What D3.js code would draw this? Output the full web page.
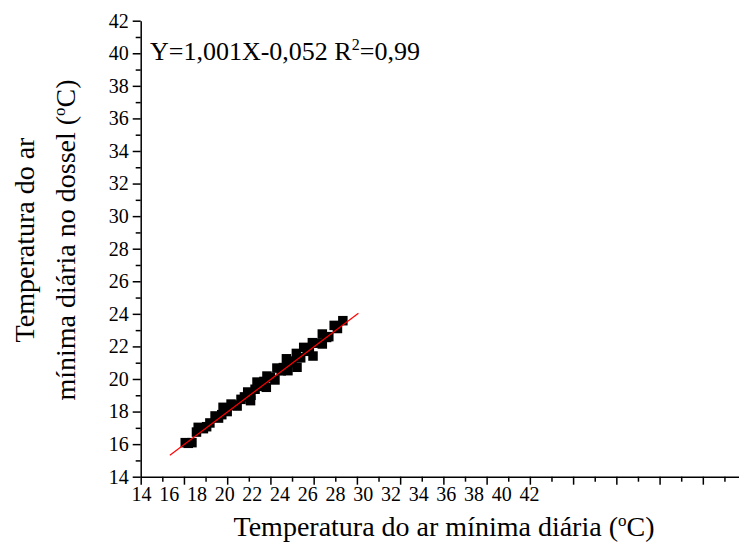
<!DOCTYPE html>
<html><head><meta charset="utf-8">
<script src="https://cdn.jsdelivr.net/npm/d3@7"></script>
<style>body{margin:0;background:#fff}svg{display:block}text{font-family:"Liberation Serif","Times New Roman",serif;fill:#000}</style>
</head><body><svg id="c" width="739" height="550"></svg>
<script>
const xVals = [16.06,16.37,16.58,16.66,17.05,17.44,17.75,17.81,18.18,18.46,18.64,19.08,18.95,19.29,19.38,19.81,19.84,20.21,20.30,20.81,20.74,21.23,21.20,21.54,21.97,21.94,22.40,22.40,22.95,23.35,
  17.20,18.00,18.80,19.60,20.50,21.00,21.70,22.20,22.70,23.10,16.90,17.60,18.30,19.10,19.50,20.00,20.60,21.40,21.80,22.60,16.20,20.95,19.70];
const yVals = [16.09,16.09,16.74,17.03,17.07,17.73,17.81,18.26,18.46,18.34,18.75,18.67,19.20,19.37,19.81,19.49,20.18,19.94,20.67,20.51,21.24,20.72,21.57,21.94,21.41,22.23,22.76,22.15,23.29,23.58,
  17.30,18.00,18.90,19.70,20.50,21.00,21.70,22.20,22.60,23.10,16.95,17.60,18.40,19.00,19.55,20.10,20.70,21.30,21.80,22.55,16.05,21.10,19.85];
const fitX = [15.35,24.07];
const slope = 1.001, intercept = -0.052;
const yTicks = [14,16,18,20,22,24,26,28,30,32,34,36,38,40,42];
const xTickLabels = [14,16,18,20,22,24,26,28,30,32,34,36,38,40,42];

const FONT = '"Liberation Serif","Times New Roman",serif';
const svg = d3.select("#c");
const x = d3.scaleLinear().domain([14,42]).range([140.7,140.7+28*21.62]);
const xLab = d3.scaleLinear().domain([14,42]).range([141,529]);
const y = d3.scaleLinear().domain([14,42]).range([476.7,20.7]);

function styleText(g){
  g.attr("font-family",null).attr("font-size",null);
  g.selectAll("text").style("font-family",FONT).style("font-size","20px").attr("fill","#000");
}

// minor ticks
svg.append("g").attr("transform","translate(0,476.7)")
  .call(d3.axisBottom(x).tickValues(d3.range(15,42,2)).tickSize(5).tickFormat(""))
  .call(g=>{g.select(".domain").remove();g.selectAll("line").attr("stroke-width",1.5);});
svg.append("g").attr("transform","translate(140.7,0)")
  .call(d3.axisLeft(y).tickValues(d3.range(15,42,2)).tickSize(5).tickFormat(""))
  .call(g=>{g.select(".domain").remove();g.selectAll("line").attr("stroke-width",1.5);});
// major axes
svg.append("g").attr("transform","translate(0,476.7)")
  .call(d3.axisBottom(x).tickValues(d3.range(14,43,2)).tickSize(8).tickSizeOuter(0).tickFormat(""))
  .call(g=>{g.select(".domain").attr("stroke-width",1.5);g.selectAll("line").attr("stroke-width",1.5);});
svg.append("g").attr("transform","translate(140.7,0)")
  .call(d3.axisLeft(y).tickValues(yTicks).tickSize(8).tickSizeOuter(0).tickPadding(4))
  .call(g=>{g.select(".domain").attr("stroke-width",1.5);g.selectAll("line").attr("stroke-width",1.5);styleText(g);});
// x labels (offset scale as in reference)
svg.append("g").attr("transform","translate(0,476.7)")
  .call(d3.axisBottom(xLab).tickValues(xTickLabels).tickSize(0).tickPadding(10))
  .call(g=>{g.select(".domain").remove();styleText(g);});

// points
const pts = xVals.map((v,i)=>[v,yVals[i]]);
const s = 9.5;
svg.append("g").selectAll("rect").data(pts).join("rect")
  .attr("x",d=>x(d[0])-s/2).attr("y",d=>y(d[1])-s/2).attr("width",s).attr("height",s).attr("fill","#000");

// fit line
svg.append("line")
  .attr("x1",x(fitX[0])).attr("y1",y(slope*fitX[0]+intercept))
  .attr("x2",x(fitX[1])).attr("y2",y(slope*fitX[1]+intercept))
  .attr("stroke","#ff0000").attr("stroke-width",1.2);

// equation
const eq = svg.append("text").attr("x",150).attr("y",60).style("font-size","26px");
eq.append("tspan").text("Y=1,001X-0,052 R");
eq.append("tspan").attr("dy",-10).style("font-size","16px").text("2");
eq.append("tspan").attr("dy",10).text("=0,99");

// x title
const xt = svg.append("text").attr("x",444).attr("y",536).attr("text-anchor","middle").style("font-size","28px");
xt.append("tspan").text("Temperatura do ar mínima diária (");
xt.append("tspan").attr("dy",-10).style("font-size","17px").text("o");
xt.append("tspan").attr("dy",10).text("C)");

// y title
const yt = svg.append("g").attr("transform","translate(0,240) rotate(-90)");
yt.append("text").attr("x",0).attr("y",34).attr("text-anchor","middle").style("font-size","28px").text("Temperatura do ar");
const yt2 = yt.append("text").attr("x",0).attr("y",75).attr("text-anchor","middle").style("font-size","28px");
yt2.append("tspan").text("mínima diária no dossel (");
yt2.append("tspan").attr("dy",-10).style("font-size","17px").text("o");
yt2.append("tspan").attr("dy",10).text("C)");
</script></body></html>
